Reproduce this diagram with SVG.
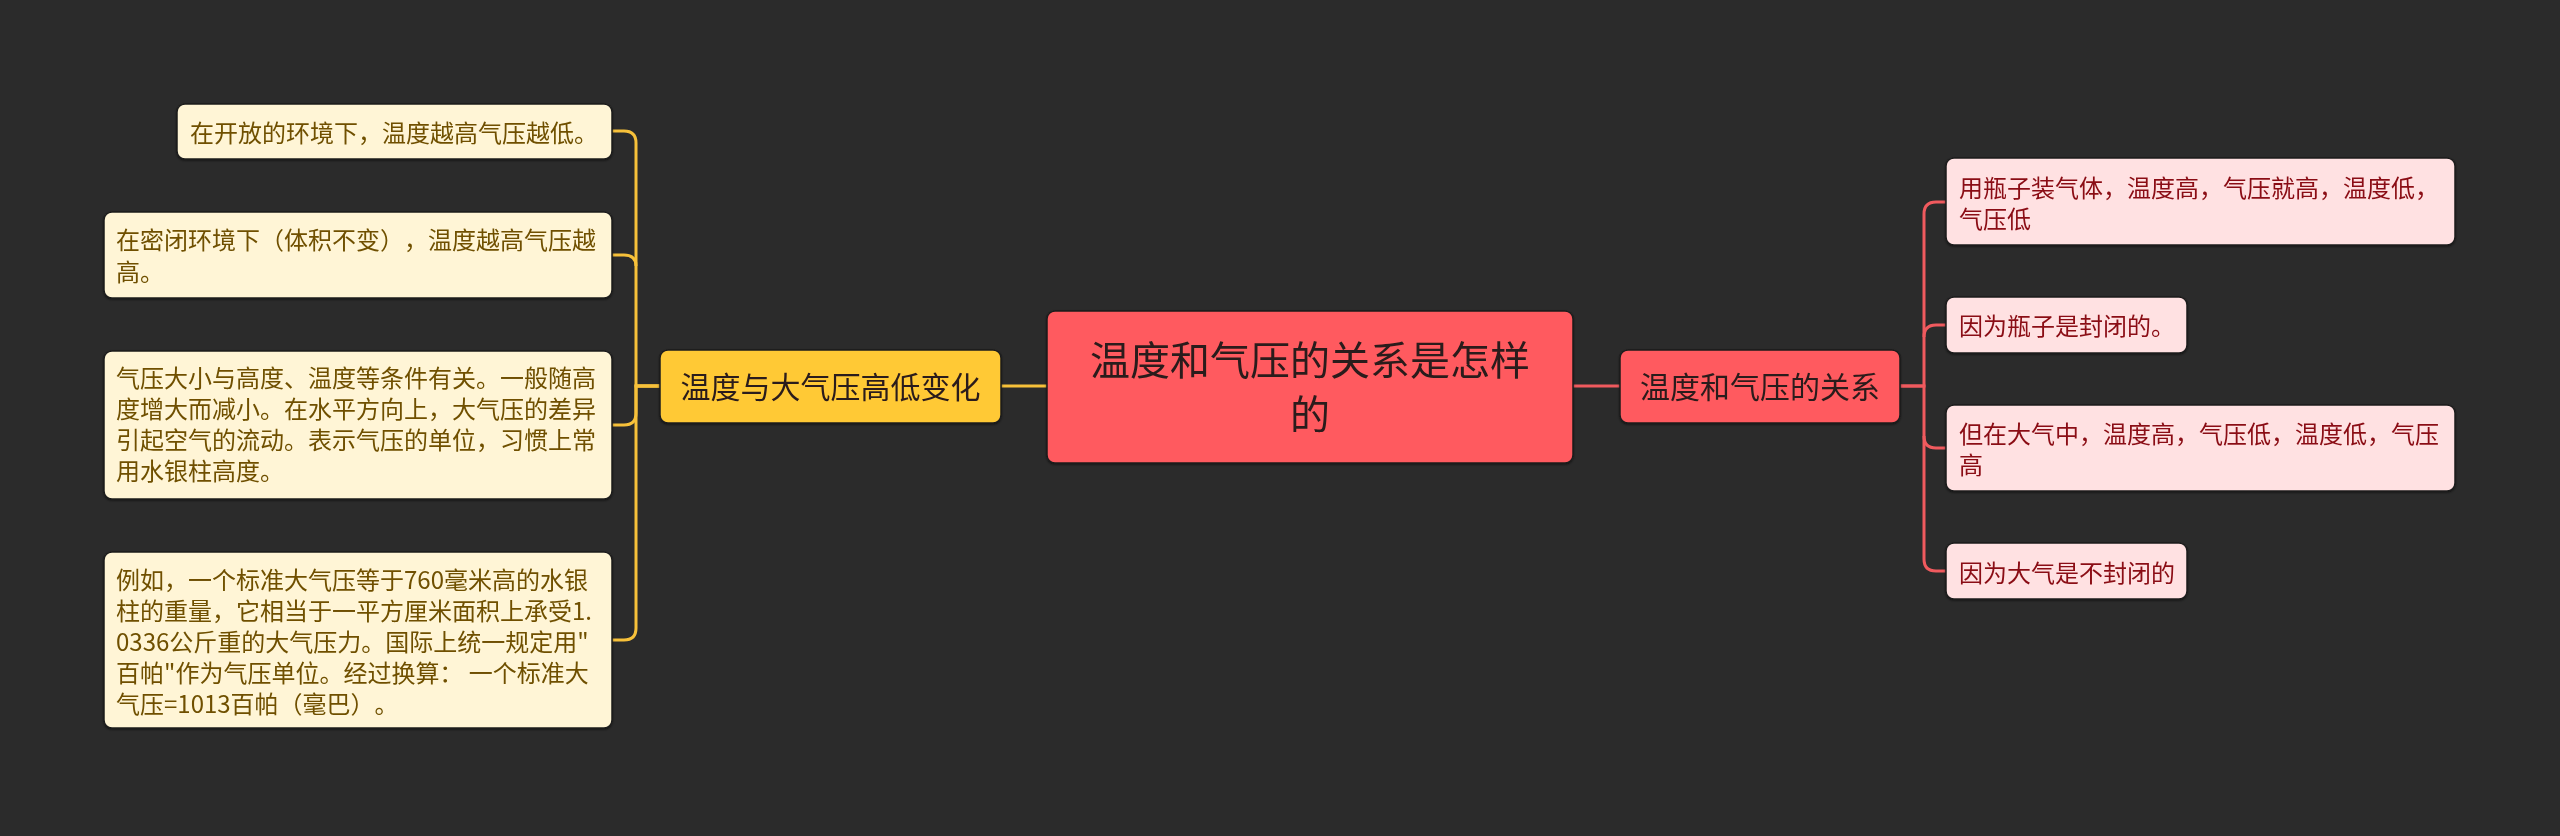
<svg xmlns="http://www.w3.org/2000/svg" width="2560" height="836" viewBox="0 0 2560 836">
<style>
text{font-family:"Noto Sans CJK SC","Noto Sans",sans-serif;text-spacing-trim:space-all;}
rect.n{stroke:#1c1c1c;stroke-width:1.5;}
.leafL rect{fill:#FFF5D6;}
.leafL text{fill:#6F5000;font-size:24px;}
.leafR rect{fill:#FFE1E2;}
.leafR text{fill:#8A0B12;font-size:24px;}
.yl{fill:#FFC936;}
.rd{fill:#FF5A5E;}
.dark{fill:#2A1A1A;}
.cy{fill:none;stroke:#F7C13A;stroke-width:3;}
.cr{fill:none;stroke:#F05A5E;stroke-width:3;}
</style>
<defs>
<filter id="sh" x="-5%" y="-5%" width="110%" height="120%"><feDropShadow dx="0" dy="1" stdDeviation="1" flood-color="#000" flood-opacity="0.5"/></filter>
</defs>
<rect width="2560" height="836" fill="#2B2B2B"/>
<g id="connectors">
<line class="cy" x1="1001" y1="386" x2="1047" y2="386"/>
<line class="cr" x1="1573" y1="386" x2="1620" y2="386"/>
<path class="cy" d="M660 386 H636 V143 Q636 131 624 131 H612"/>
<path class="cy" d="M636 266 Q636 255 624 255 H612"/>
<path class="cy" d="M660 386 H636 V413 Q636 425 624 425 H612"/>
<path class="cy" d="M660 386 H636 V628 Q636 640 624 640 H612"/>
<path class="cr" d="M1900 386 H1924 V214 Q1924 202 1936 202 H1946"/>
<path class="cr" d="M1924 337 Q1924 325 1936 325 H1946"/>
<path class="cr" d="M1900 386 H1924 V436 Q1924 448 1936 448 H1946"/>
<path class="cr" d="M1924 436 V559 Q1924 571 1936 571 H1946"/>
</g>
<g id="root" filter="url(#sh)">
<rect class="n rd" x="1047" y="311" width="526" height="152" rx="8"/>
<text x="1310" y="375" font-size="40" text-anchor="middle" class="dark">温度和气压的关系是怎样</text>
<text x="1310" y="429" font-size="40" text-anchor="middle" class="dark">的</text>
</g>
<g id="branch-left" filter="url(#sh)">
<rect class="n yl" x="660" y="350" width="341" height="73" rx="8"/>
<text x="830.5" y="398" font-size="30" text-anchor="middle" class="dark">温度与大气压高低变化</text>
</g>
<g id="branch-right" filter="url(#sh)">
<rect class="n rd" x="1620" y="350" width="280" height="73" rx="8"/>
<text x="1760" y="398" font-size="30" text-anchor="middle" class="dark">温度和气压的关系</text>
</g>
<g id="l1" class="leafL" filter="url(#sh)">
<rect class="n" x="177" y="104" width="435" height="55" rx="8"/>
<text x="190" y="142">在开放的环境下，温度越高气压越低。</text>
</g>
<g id="l2" class="leafL" filter="url(#sh)">
<rect class="n" x="104" y="212" width="508" height="86" rx="8"/>
<text x="116" y="249">在密闭环境下（体积不变），温度越高气压越</text>
<text x="116" y="281">高。</text>
</g>
<g id="l3" class="leafL" filter="url(#sh)">
<rect class="n" x="104" y="351" width="508" height="148" rx="8"/>
<text x="116" y="387">气压大小与高度、温度等条件有关。一般随高</text>
<text x="116" y="418">度增大而减小。在水平方向上，大气压的差异</text>
<text x="116" y="449">引起空气的流动。表示气压的单位，习惯上常</text>
<text x="116" y="480">用水银柱高度。</text>
</g>
<g id="l4" class="leafL" filter="url(#sh)">
<rect class="n" x="104" y="552" width="508" height="176" rx="8"/>
<text x="116" y="589">例如，一个标准大气压等于760毫米高的水银</text>
<text x="116" y="620">柱的重量，它相当于一平方厘米面积上承受1.</text>
<text x="116" y="651">0336公斤重的大气压力。国际上统一规定用"</text>
<text x="116" y="682">百帕"作为气压单位。经过换算： 一个标准大</text>
<text x="116" y="713">气压=1013百帕（毫巴）。</text>
</g>
<g id="r1" class="leafR" filter="url(#sh)">
<rect class="n" x="1946" y="158" width="509" height="87" rx="8"/>
<text x="1959" y="197">用瓶子装气体，温度高，气压就高，温度低，</text>
<text x="1959" y="228">气压低</text>
</g>
<g id="r2" class="leafR" filter="url(#sh)">
<rect class="n" x="1946" y="297" width="241" height="56" rx="8"/>
<text x="1959" y="335">因为瓶子是封闭的。</text>
</g>
<g id="r3" class="leafR" filter="url(#sh)">
<rect class="n" x="1946" y="405" width="509" height="86" rx="8"/>
<text x="1959" y="443">但在大气中，温度高，气压低，温度低，气压</text>
<text x="1959" y="474">高</text>
</g>
<g id="r4" class="leafR" filter="url(#sh)">
<rect class="n" x="1946" y="543" width="241" height="56" rx="8"/>
<text x="1959" y="582">因为大气是不封闭的</text>
</g>
</svg>
